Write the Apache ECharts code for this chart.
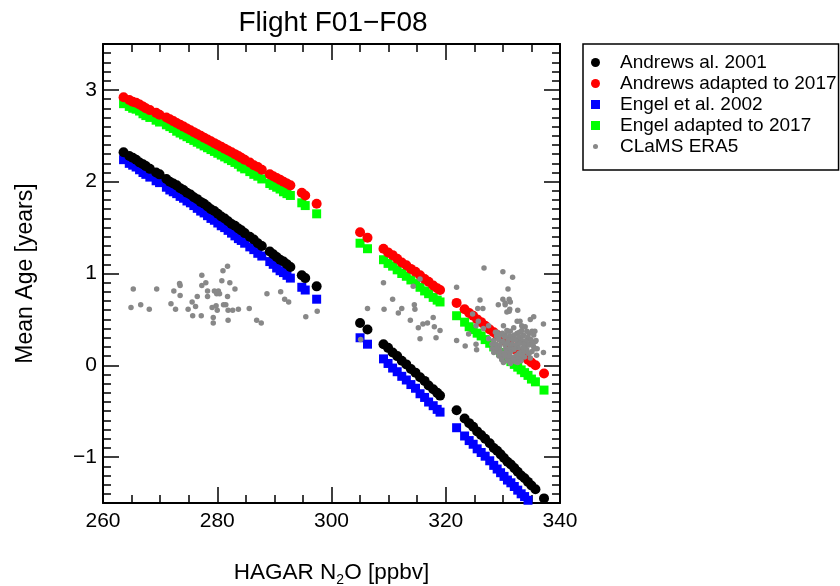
<!DOCTYPE html>
<html>
<head>
<meta charset="utf-8">
<title>Flight F01−F08</title>
<script src="https://cdn.jsdelivr.net/npm/echarts@6/dist/echarts.min.js"></script>
<style>
  html, body { margin: 0; padding: 0; background: #fff; }
  #chart { width: 840px; height: 586px; }
</style>
</head>
<body>
<div id="chart"></div>
<script>
// HAGAR N2O sample values (ppbv) shared by the four age-conversion series
const n2o = [
  263.6, 264.6, 265.2, 265.8, 266.4, 267.0, 267.5, 268.2, 269.3, 269.9,
  271.1, 271.7, 272.3, 272.9, 273.5, 274.1, 274.7, 275.3, 275.9, 276.5,
  277.1, 277.7, 278.3, 278.9, 279.5, 280.1, 280.7, 281.3, 281.9, 282.5,
  283.1, 283.7, 284.2, 284.8, 285.7, 286.4, 287.1, 287.8, 289.2, 289.8,
  290.4, 291.0, 291.6, 292.2, 292.8, 294.8, 295.4, 297.4,
  305.0, 306.3, 309.1, 309.9, 310.7, 311.5, 312.3, 313.1, 313.9, 314.7,
  315.5, 316.3, 317.0, 317.8, 318.5, 319.0,
  321.9, 323.3, 324.1, 324.8, 325.5, 326.2, 326.9, 327.7, 328.4, 329.0,
  329.6, 330.2, 330.8, 331.4, 332.0, 332.6, 333.2, 333.8, 334.4, 335.0,
  335.7, 337.2
];

// Mean age (years), Andrews et al. 2001
const ageAndrews2001 = [
  2.32, 2.28, 2.26, 2.24, 2.21, 2.19, 2.17, 2.14, 2.10, 2.08,
  2.03, 2.00, 1.98, 1.96, 1.93, 1.91, 1.88, 1.86, 1.83, 1.81,
  1.78, 1.76, 1.73, 1.70, 1.68, 1.65, 1.62, 1.60, 1.57, 1.54,
  1.52, 1.49, 1.47, 1.44, 1.40, 1.37, 1.33, 1.30, 1.24, 1.21,
  1.18, 1.15, 1.13, 1.10, 1.07, 0.98, 0.95, 0.86,
  0.46, 0.39, 0.23, 0.19, 0.14, 0.10, 0.05, 0.01, -0.04, -0.08,
  -0.13, -0.17, -0.22, -0.26, -0.30, -0.33,
  -0.49, -0.58, -0.63, -0.67, -0.72, -0.76, -0.80, -0.85, -0.90, -0.93,
  -0.97, -1.01, -1.05, -1.08, -1.12, -1.16, -1.20, -1.23, -1.27, -1.31,
  -1.35, -1.45
];

// Mean age (years), Andrews relation adapted to 2017
const ageAndrews2017 = [
  2.92, 2.89, 2.87, 2.86, 2.84, 2.82, 2.80, 2.78, 2.75, 2.73,
  2.70, 2.68, 2.66, 2.64, 2.62, 2.60, 2.58, 2.56, 2.54, 2.52,
  2.50, 2.48, 2.46, 2.44, 2.42, 2.40, 2.38, 2.36, 2.34, 2.32,
  2.30, 2.28, 2.26, 2.24, 2.21, 2.18, 2.16, 2.13, 2.08, 2.06,
  2.04, 2.02, 2.00, 1.98, 1.96, 1.88, 1.85, 1.76,
  1.45, 1.39, 1.27, 1.23, 1.20, 1.16, 1.12, 1.09, 1.05, 1.02,
  0.98, 0.94, 0.91, 0.87, 0.84, 0.82,
  0.68, 0.61, 0.57, 0.54, 0.50, 0.47, 0.43, 0.39, 0.36, 0.33,
  0.30, 0.27, 0.24, 0.21, 0.18, 0.15, 0.12, 0.09, 0.06, 0.03,
  0.00, -0.09
];

// Mean age (years), Engel et al. 2002
const ageEngel2002 = [
  2.24, 2.20, 2.18, 2.16, 2.13, 2.10, 2.08, 2.05, 2.01, 1.99,
  1.94, 1.91, 1.89, 1.87, 1.84, 1.82, 1.79, 1.77, 1.74, 1.71,
  1.68, 1.66, 1.63, 1.60, 1.58, 1.55, 1.52, 1.50, 1.47, 1.44,
  1.41, 1.38, 1.36, 1.33, 1.29, 1.26, 1.22, 1.19, 1.13, 1.10,
  1.06, 1.03, 1.01, 0.98, 0.95, 0.85, 0.82, 0.72,
  0.30, 0.23, 0.07, 0.02, -0.03, -0.07, -0.12, -0.16, -0.21, -0.25,
  -0.31, -0.35, -0.40, -0.44, -0.48, -0.51,
  -0.68, -0.77, -0.82, -0.86, -0.91, -0.95, -0.99, -1.04, -1.09, -1.13,
  -1.17, -1.21, -1.25, -1.28, -1.32, -1.36, -1.40, -1.43, -1.47, -1.51,
  -1.55, -1.65
];

// Mean age (years), Engel relation adapted to 2017
const ageEngel2017 = [
  2.85, 2.82, 2.80, 2.79, 2.77, 2.74, 2.72, 2.70, 2.67, 2.65,
  2.62, 2.60, 2.58, 2.55, 2.53, 2.51, 2.49, 2.47, 2.45, 2.43,
  2.41, 2.39, 2.37, 2.35, 2.33, 2.31, 2.29, 2.27, 2.25, 2.23,
  2.21, 2.19, 2.16, 2.14, 2.11, 2.08, 2.06, 2.03, 1.98, 1.96,
  1.94, 1.92, 1.89, 1.87, 1.85, 1.77, 1.74, 1.65,
  1.33, 1.27, 1.15, 1.11, 1.08, 1.04, 1.00, 0.97, 0.93, 0.89,
  0.85, 0.81, 0.78, 0.74, 0.71, 0.69,
  0.54, 0.47, 0.42, 0.39, 0.35, 0.32, 0.28, 0.24, 0.20, 0.17,
  0.14, 0.11, 0.08, 0.04, 0.01, -0.02, -0.05, -0.08, -0.11, -0.15,
  -0.18, -0.27
];

// CLaMS ERA5 model mean age along the flight track
const clamsN2O = [
  265.3, 264.9, 266.6, 268.1, 269.4, 271.9, 272.4, 272.7, 273.4, 273.5,
  273.5, 274.9, 275.6, 275.7, 276.2, 276.5, 277.2, 277.3, 277.3, 278.0,
  278.3, 278.3, 279.1, 279.3, 279.3, 279.5, 279.9, 279.8, 280.2, 280.4,
  280.0, 280.8, 281.0, 281.1, 281.5, 281.8, 281.9, 281.9, 282.2, 281.8,
  282.7, 283.1, 283.7, 285.6, 286.9, 287.7, 288.7, 291.1, 291.8, 292.5,
  295.5, 297.5,
  309.1, 315.5, 314.3, 310.7, 306.3, 309.2, 312.3, 311.7, 314.5, 314.6,
  313.8, 317.8, 316.8, 316.0, 315.2, 318.0, 319.0, 315.5, 318.3, 305.1,
  321.9, 321.9, 326.7, 330.0, 331.7, 330.9, 326.0, 330.0, 331.1, 329.2,
  330.4, 325.6, 326.5, 330.7, 331.2, 332.6, 324.7, 335.4, 334.8, 332.5,
  333.3, 330.1, 337.1, 325.7, 325.3, 327.5, 328.7, 326.6, 324.0, 323.4,
  325.3, 325.4, 327.5, 328.1, 337.1, 335.7, 335.1, 334.2, 331.9, 332.5,
  330.4, 331.0, 331.6, 332.2, 333.0, 333.6, 334.2, 334.8, 335.4, 329.8,
  330.4, 331.3, 331.9, 332.7, 333.3, 333.9, 334.5, 335.1, 329.5, 330.1,
  331.0, 331.6, 332.4, 333.0, 333.8, 332.2, 332.7, 328.9, 329.2, 330.7,
  331.3, 333.3, 333.9, 333.0, 334.3, 335.9, 335.7, 328.7, 330.7, 334.8,
  329.8, 330.4, 331.3, 331.1, 329.0, 329.9, 330.9, 332.9, 334.6, 335.6,
  328.9, 329.6, 330.3, 331.2, 332.0, 332.8, 333.5, 334.4, 335.4, 328.4,
  329.3, 330.0, 330.9, 331.7, 332.5, 333.3, 334.0, 334.9, 335.8, 328.8,
  329.5, 330.8, 331.6, 332.3, 333.0, 333.7, 334.6, 335.3, 328.2, 329.0,
  330.5, 331.3, 332.0, 333.5, 334.2, 336.0, 328.4, 329.3, 330.7, 331.3,
  332.8, 333.6, 334.6, 329.3, 330.3, 331.2, 332.0, 332.7, 333.4, 329.8,
  330.9, 331.8, 332.6, 333.2, 330.1, 331.3, 332.6
];
const clamsAge = [
  0.83, 0.63, 0.66, 0.61, 0.83, 0.67, 0.81, 0.61, 0.89, 0.87,
  0.76, 0.61, 0.69, 0.54, 0.64, 0.75, 0.54, 0.98, 0.87, 0.90,
  0.81, 0.75, 0.63, 0.52, 0.46, 0.81, 0.78, 0.65, 0.81, 0.78,
  0.60, 0.92, 1.03, 0.66, 0.66, 1.08, 0.60, 0.49, 0.90, 0.75,
  0.60, 0.83, 0.61, 0.62, 0.49, 0.46, 0.78, 0.80, 0.72, 0.69,
  0.53, 0.59,
  0.90, 0.94, 0.86, 0.72, 0.62, 0.61, 0.62, 0.57, 0.66, 0.61,
  0.49, 0.52, 0.46, 0.45, 0.41, 0.42, 0.38, 0.29, 0.30, 0.28,
  0.85, 0.27, 1.06, 1.02, 0.96, 0.83, 0.71, 0.72, 0.72, 0.66,
  0.66, 0.62, 0.62, 0.58, 0.61, 0.60, 0.56, 0.53, 0.50, 0.48,
  0.43, 0.43, 0.45, 0.48, 0.43, 0.43, 0.36, 0.40, 0.34, 0.21,
  0.23, 0.17, 0.29, 0.23, 0.14, 0.26, 0.37, 0.37, 0.41, 0.35,
  0.33, 0.29, 0.31, 0.28, 0.29, 0.33, 0.28, 0.24, 0.20, 0.26,
  0.22, 0.20, 0.17, 0.19, 0.15, 0.19, 0.13, 0.15, 0.17, 0.13,
  0.11, 0.08, 0.11, 0.08, 0.09, 0.04, 0.24, 0.20, 0.30, 0.38,
  0.37, 0.38, 0.42, 0.48, 0.22, 0.11, 0.18, 0.15, 0.08, 0.08,
  0.09, 0.68, 0.69, 0.59, 0.36, 0.35, 0.37, 0.36, 0.35, 0.37,
  0.32, 0.33, 0.31, 0.32, 0.33, 0.31, 0.32, 0.31, 0.33, 0.27,
  0.28, 0.26, 0.27, 0.28, 0.26, 0.27, 0.26, 0.28, 0.27, 0.23,
  0.22, 0.24, 0.23, 0.22, 0.24, 0.23, 0.22, 0.24, 0.18, 0.19,
  0.18, 0.17, 0.18, 0.19, 0.17, 0.18, 0.14, 0.13, 0.15, 0.14,
  0.13, 0.14, 0.13, 0.10, 0.11, 0.10, 0.09, 0.10, 0.11, 0.06,
  0.05, 0.06, 0.07, 0.05, 0.03, 0.02, 0.03
];

// Axis tick positions
const xTicks = [260, 280, 300, 320, 340];
const yMajorTicks = [-1, 0, 1, 2, 3];
const yHalfTicks = [-1.5, -0.5, 0.5, 1.5, 2.5, 3.5];

const seriesNames = [
  'Andrews al. 2001',
  'Andrews adapted to 2017',
  'Engel et al. 2002',
  'Engel adapted to 2017',
  'CLaMS ERA5'
];

const pairs = (xs, ys) => xs.map((x, i) => [x, ys[i]]);

const FONT = 'Liberation Sans, Arial, Helvetica, sans-serif';
const fmtMinus = v => (v < 0 ? '\u2212' + Math.abs(v) : String(v));

const chart = echarts.init(document.getElementById('chart'), null, { renderer: 'canvas' });

const baseAxisLine = { show: true, onZero: false, lineStyle: { color: '#000', width: 2 } };

function xAxisDef(position, showLabels) {
  return {
    type: 'value', position, min: 260, max: 340, interval: 20,
    axisLine: baseAxisLine,
    axisTick: { show: true, inside: true, length: 16, lineStyle: { color: '#000', width: 1.5 } },
    minorTick: { show: true, splitNumber: 4, length: 8, lineStyle: { color: '#000', width: 1.5 } },
    splitLine: { show: false },
    axisLabel: {
      show: showLabels, color: '#000', fontSize: 21, fontFamily: FONT, margin: 8,
      customValues: xTicks
    },
    name: showLabels ? '{a|HAGAR N}{s|2}{a|O [ppbv]}' : '',
    nameLocation: 'middle',
    nameGap: 56,
    nameTextStyle: {
      color: '#000', fontFamily: FONT, fontSize: 22.5,
      rich: {
        a: { fontSize: 22.5, fontFamily: FONT, color: '#000', lineHeight: 28 },
        s: { fontSize: 14, fontFamily: FONT, color: '#000', lineHeight: 14, verticalAlign: 'bottom' }
      }
    }
  };
}

function yMajorDef(position, showLabels) {
  return {
    type: 'value', position, min: -1.5, max: 3.5, interval: 0.5,
    axisLine: baseAxisLine,
    axisTick: {
      show: true, inside: true, length: 16, customValues: yMajorTicks,
      lineStyle: { color: '#000', width: 1.5 }
    },
    minorTick: { show: true, splitNumber: 5, length: 8, lineStyle: { color: '#000', width: 1.5 } },
    splitLine: { show: false },
    axisLabel: {
      show: showLabels, color: '#000', fontSize: 21, fontFamily: FONT, margin: 6,
      customValues: yMajorTicks, formatter: fmtMinus
    },
    name: showLabels ? 'Mean Age [years]' : '',
    nameLocation: 'middle',
    nameRotate: 90,
    nameGap: 66,
    nameTextStyle: { color: '#000', fontSize: 23, fontFamily: FONT }
  };
}

function yHalfDef(position) {
  return {
    type: 'value', position, min: -1.5, max: 3.5, interval: 0.5,
    axisLine: { show: false, onZero: false },
    axisTick: {
      show: true, inside: true, length: 8, customValues: yHalfTicks,
      lineStyle: { color: '#000', width: 1.5 }
    },
    splitLine: { show: false },
    axisLabel: { show: false }
  };
}

function scatter(name, data, symbol, size, color, z) {
  return {
    name, type: 'scatter', data, symbol, symbolSize: size,
    xAxisIndex: 0, yAxisIndex: 0, z,
    itemStyle: { color, opacity: 1 },
    emphasis: { disabled: true },
    clip: true,
    animation: false
  };
}

const grayIcon = 'path://M0,0h0.01v0.01z M10,10h-0.01v-0.01z M2.2,5a2.8,2.8 0 1,0 5.6,0a2.8,2.8 0 1,0 -5.6,0z';

chart.setOption({
  animation: false,
  backgroundColor: '#fff',
  textStyle: { fontFamily: FONT },
  title: {
    text: 'Flight F01\u2212F08',
    left: 333, top: 9, padding: 0,
    textAlign: 'center',
    textStyle: { fontSize: 28, fontWeight: 'normal', color: '#000', fontFamily: FONT }
  },
  grid: {
    left: 103, top: 44, width: 457, height: 459,
    containLabel: false, outerBoundsMode: 'none'
  },
  legend: {
    orient: 'vertical',
    left: 583, top: 44,
    padding: [9, 2, 14, 8],
    itemGap: 2,
    itemWidth: 9, itemHeight: 9,
    borderColor: '#000', borderWidth: 1.5, borderRadius: 0,
    backgroundColor: '#fff',
    selectedMode: false,
    textStyle: { fontSize: 19, color: '#000', fontFamily: FONT, padding: [0, 0, 0, 15] },
    data: [
      { name: seriesNames[0], icon: 'circle', itemStyle: { color: '#000' } },
      { name: seriesNames[1], icon: 'circle', itemStyle: { color: '#ff0000' } },
      { name: seriesNames[2], icon: 'rect', itemStyle: { color: '#0000ff' } },
      { name: seriesNames[3], icon: 'rect', itemStyle: { color: '#00ff00' } },
      { name: seriesNames[4], icon: grayIcon, itemStyle: { color: '#888888' } }
    ]
  },
  xAxis: [xAxisDef('bottom', true), xAxisDef('top', false)],
  yAxis: [yMajorDef('left', true), yHalfDef('left'), yMajorDef('right', false), yHalfDef('right')],
  series: [
    scatter(seriesNames[2], pairs(n2o, ageEngel2002), 'rect', 9, '#0000ff', 2),
    scatter(seriesNames[3], pairs(n2o, ageEngel2017), 'rect', 9, '#00ff00', 2),
    scatter(seriesNames[0], pairs(n2o, ageAndrews2001), 'circle', 10, '#000000', 3),
    scatter(seriesNames[1], pairs(n2o, ageAndrews2017), 'circle', 10, '#ff0000', 3),
    scatter(seriesNames[4], pairs(clamsN2O, clamsAge), 'circle', 5.5, '#888888', 4)
  ]
});
</script>
</body>
</html>
